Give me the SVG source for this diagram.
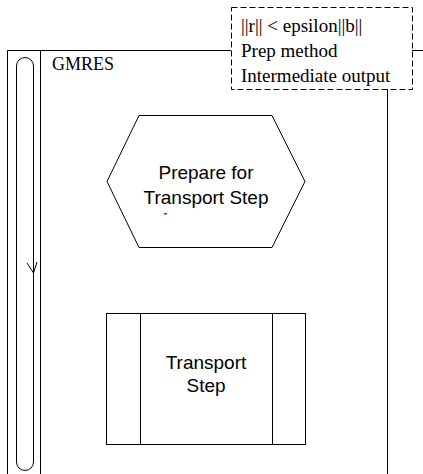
<svg xmlns="http://www.w3.org/2000/svg" width="423" height="474" viewBox="0 0 423 474">
<style>
.ln{fill:none;stroke:#000;stroke-width:1}
.dash{fill:none;stroke:#000;stroke-width:1;stroke-dasharray:6,3}
.sans{font-family:"Liberation Sans",Arial,sans-serif;font-size:19px;fill:#000;text-anchor:middle}
.serif{font-family:"Liberation Serif","Times New Roman",serif;font-size:19px;fill:#000}
</style>
<rect width="423" height="474" fill="#fff"/>
<g id="frame">
<polyline class="ln" points="7.5,474 7.5,50.5 231,50.5"/>
<line class="ln" x1="412" y1="50.5" x2="423" y2="50.5"/>
<line class="ln" x1="387.5" y1="89" x2="387.5" y2="474"/>
<line class="ln" x1="40.5" y1="50.5" x2="40.5" y2="474"/>
<text class="serif" x="52" y="70" style="font-size:18px">GMRES</text>
</g>
<g id="annotation">
<rect class="dash" x="231.5" y="7.5" width="181" height="82"/>
<text class="serif" x="241" y="32">||r|| &lt; epsilon||b||</text>
<text class="serif" x="241" y="57">Prep method</text>
<text class="serif" x="241" y="82">Intermediate output</text>
</g>
<g id="connectors">
<path class="ln" d="M33.5,66 A8.5,8.5 0 0 0 16.5,66 L16.5,462 A8.5,8.5 0 0 0 33.5,462 Z"/>
<polyline class="ln" points="27,263 33.5,273 37,262"/>
</g>
<g id="prepare">
<polygon class="ln" points="107,181.5 139,115.5 272,115.5 305,181.5 272,247.5 139,247.5"/>
<text class="sans" x="206" y="179">Prepare for</text>
<text class="sans" x="206" y="204">Transport Step</text>
<rect x="164" y="213" width="3" height="1.5" fill="#e00"/>
</g>
<g id="transport">
<rect class="ln" x="106.5" y="313.5" width="199" height="131"/>
<line class="ln" x1="140.5" y1="313.5" x2="140.5" y2="444.5"/>
<line class="ln" x1="272.5" y1="313.5" x2="272.5" y2="444.5"/>
<text class="sans" x="206" y="369">Transport</text>
<text class="sans" x="206" y="392">Step</text>
</g>
</svg>
